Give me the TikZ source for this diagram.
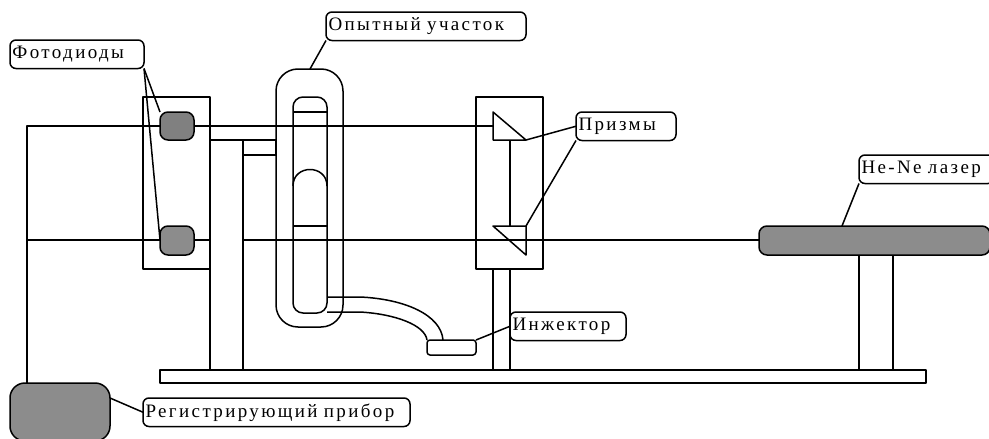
\documentclass[tikz,border=0pt]{standalone}
\usepackage{fontspec}
\setmainfont[LetterSpace=12.5,WordSpace=0.5]{Liberation Serif}
\definecolor{devgray}{HTML}{8C8C8C}
\definecolor{darkgray}{HTML}{808080}
\tikzset{
  x=1pt,y=-1pt,
  every path/.style={line width=1.5pt,line join=round},
  beam/.style={line width=1.2pt},
  lab/.style={draw,line width=1.5pt,outer sep=0pt,rounded corners=6pt,anchor=north west,inner sep=0pt,minimum height=28.5pt,font=\fontsize{19}{20}\selectfont},
  dev/.style={draw,line width=1.5pt,outer sep=0pt,fill=devgray,anchor=north west,inner sep=0pt},
  plain/.style={draw,line width=1.5pt,outer sep=0pt,anchor=north west,inner sep=0pt}
}
\newcommand{\lbl}[5]{\node[lab,minimum width=#4pt,text width=#4pt-5pt,align=left] (#1) at (#2,#3) {#5};}
\begin{document}
\begin{tikzpicture}
\useasboundingbox (0,0) rectangle (989,439);
% holders
\node[plain,minimum width=67pt,minimum height=172pt] (lbox) at (143,97) {};
\node[plain,minimum width=67pt,minimum height=172pt] (rbox) at (476,97) {};
% beams
\coordinate (bend) at (27,126);
\coordinate (regtop) at (27,383);
\coordinate (prismin) at (493,126);
\coordinate (lowstart) at (27,240);
\coordinate (laserin) at (759,240);
\draw[beam] (regtop) -- (bend) -- (prismin);
\draw[beam] (lowstart) -- (laserin);
% base and stands
\node[plain,minimum width=766pt,minimum height=13pt] (base) at (160,370) {};
\node[plain,fill=white,minimum width=33pt,minimum height=230pt] (lstand) at (210,140) {};
\node[plain,minimum width=33pt,minimum height=15pt] (bracket) at (243,140) {};
\node[plain,fill=white,minimum width=17pt,minimum height=101pt] (rstand) at (493,269) {};
\node[plain,fill=white,minimum width=34pt,minimum height=115pt] (lstandr) at (859,255) {};
% test section
\node[plain,rounded corners=22pt,minimum width=67pt,minimum height=258pt] (outer) at (276,69) {};
\node[plain,rounded corners=10pt,minimum width=34pt,minimum height=216pt] (inner) at (293,97) {};
\draw (293,112) -- (327,112);
\draw (293,226) -- (327,226);
\draw (293,186) .. controls (293,164) and (327,164) .. (327,186);
% injector and tube
\node[plain,rounded corners=3pt,minimum width=49pt,minimum height=15pt] (inj) at (427,340) {};
\draw (327,297) -- (360,297) .. controls (405,299) and (441,315) .. (443,340);
\draw (327,312) -- (360,312) .. controls (395,314) and (425,325) .. (427,340);
% prisms
\draw (493,112) -- (526,140) -- (493,140) -- cycle;
\draw (526,255) -- (493,226) -- (526,226) -- cycle;
\draw (510,140) -- (510,226);
\coordinate (ptop) at (526,140);
\coordinate (pbot) at (526,226);
% devices
\node[dev,fill=darkgray,rounded corners=8pt,minimum width=34pt,minimum height=28pt] (d1) at (160,112) {};
\node[dev,rounded corners=8pt,minimum width=34pt,minimum height=29pt] (d2) at (160,226) {};
\node[dev,rounded corners=8pt,minimum width=231pt,minimum height=29pt] (laser) at (759,226) {};
\node[dev,rounded corners=15pt,minimum width=100pt,minimum height=58pt] (reg) at (10,383) {};
% labels
\lbl{foto}{10}{40}{134}{Фотодиоды}
\lbl{opyt}{326}{12}{200}{Опытный участок}
\lbl{prizm}{576}{112}{100}{Призмы}
\lbl{he}{859}{155}{135}{He-Ne лазер}
\lbl{injl}{510}{312}{116}{Инжектор}
\lbl{regl}{143}{398}{267}{Регистрирующий прибор}
% leaders
\coordinate (outertop) at (310,69);
\coordinate (lasertop) at (842,226);
\coordinate (d1c) at (160,112);
\coordinate (d2c) at (160,240);
\coordinate (regc) at (110,398);
\draw (foto.south east) -- (d1c);
\draw (foto.south east) -- (d2c);
\draw (opyt.south west) -- (outertop);
\draw (prizm.west) -- (ptop);
\draw (prizm.south west) -- (pbot);
\draw (he.south west) -- (lasertop);
\draw (injl.west) -- (inj.north east);
\draw (regl.west) -- (regc);
\end{tikzpicture}
\end{document}
